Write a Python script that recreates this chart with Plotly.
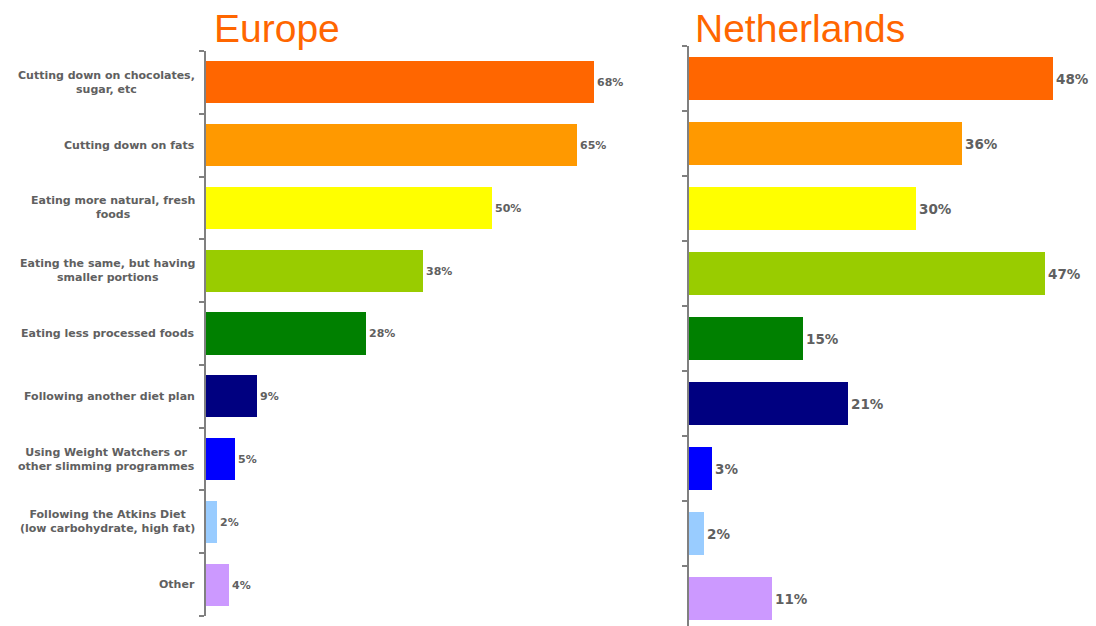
import plotly.graph_objects as go

categories = [
    "Cutting down on chocolates,<br>sugar, etc",
    "Cutting down on fats",
    "Eating more natural, fresh<br>foods",
    "Eating the same, but having<br>smaller portions",
    "Eating less processed foods",
    "Following another diet plan",
    "Using Weight Watchers or<br>other slimming programmes",
    "Following the Atkins Diet<br>(low carbohydrate, high fat)",
    "Other",
]
europe = [68, 65, 50, 38, 28, 9, 5, 2, 4]
netherlands = [48, 36, 30, 47, 15, 21, 3, 2, 11]
colors = ["#FF6600", "#FF9900", "#FFFF00", "#99CC00", "#008000",
          "#000080", "#0000FF", "#99CCFF", "#CC99FF"]

W, H = 1096, 626
TXT = "#606060"
FONT = "Liberation Sans, Arial, sans-serif"
LFONT = "DejaVu Sans, Verdana, sans-serif"

def px_x(p):
    return p / W

def px_y(p):
    return 1 - p / H

fig = go.Figure()
ids = list(range(len(categories)))

fig.add_trace(go.Bar(
    x=europe, y=ids, orientation="h", marker=dict(color=colors, line=dict(width=0)),
    width=0.67, text=[f"{v}%" for v in europe], textposition="outside",
    textfont=dict(family=LFONT, size=11, color=TXT, weight="bold"),
    cliponaxis=False, xaxis="x", yaxis="y", showlegend=False, hoverinfo="skip",
))
fig.add_trace(go.Bar(
    x=netherlands, y=ids, orientation="h", marker=dict(color=colors, line=dict(width=0)),
    width=0.66, text=[f"{v}%" for v in netherlands], textposition="outside",
    textfont=dict(family=LFONT, size=13.5, color=TXT, weight="bold"),
    cliponaxis=False, xaxis="x2", yaxis="y2", showlegend=False, hoverinfo="skip",
))

eu_x0 = 206
eu_xr = 80
eu_x1 = eu_x0 + 5.71 * eu_xr
nl_x0 = 689
nl_xr = 52
nl_x1 = nl_x0 + 7.58 * nl_xr

n = len(categories)
bound_vals = [i - 0.5 for i in range(n + 1)]

fig.update_layout(
    width=W, height=H, margin=dict(l=0, r=0, t=0, b=0),
    paper_bgcolor="white", plot_bgcolor="white",
    bargap=0,
    xaxis=dict(domain=[px_x(eu_x0), px_x(eu_x1)], range=[0, eu_xr], visible=False,
               anchor="y"),
    yaxis=dict(domain=[px_y(616), px_y(51)], range=[n - 0.5, -0.5],
               showline=True, linecolor="#808080", linewidth=1.5,
               ticks="outside", ticklen=5, tickcolor="#808080", tickwidth=1.5,
               tickmode="array", tickvals=bound_vals, showticklabels=False,
               showgrid=False, zeroline=False, anchor="x"),
    xaxis2=dict(domain=[px_x(nl_x0), min(px_x(nl_x1), 1)], range=[0, nl_xr], visible=False,
                anchor="y2"),
    yaxis2=dict(domain=[0, px_y(46)], range=[-0.5 + 580 / 65, -0.5],
                showline=True, linecolor="#808080", linewidth=1.5,
                ticks="outside", ticklen=5, tickcolor="#808080", tickwidth=1.5,
                tickmode="array", tickvals=bound_vals, showticklabels=False,
                showgrid=False, zeroline=False, anchor="x2"),
)

for i, c in enumerate(categories):
    fig.add_annotation(
        x=px_x(197), xref="paper", xanchor="right",
        y=i, yref="y", yanchor="middle",
        text=f"<b>{c}</b>", align="center", showarrow=False,
        font=dict(family=LFONT, size=11, color=TXT),
    )

fig.add_annotation(x=px_x(212), y=px_y(28), xref="paper", yref="paper",
                   xanchor="left", yanchor="middle", text="Europe", showarrow=False,
                   font=dict(family=FONT, size=39, color="#FF6600"))
fig.add_annotation(x=px_x(693), y=px_y(28), xref="paper", yref="paper",
                   xanchor="left", yanchor="middle", text="Netherlands", showarrow=False,
                   font=dict(family=FONT, size=39, color="#FF6600"))

fig.write_html("out.html", config={"displayModeBar": False},
               post_script="document.body.style.margin='0';")
